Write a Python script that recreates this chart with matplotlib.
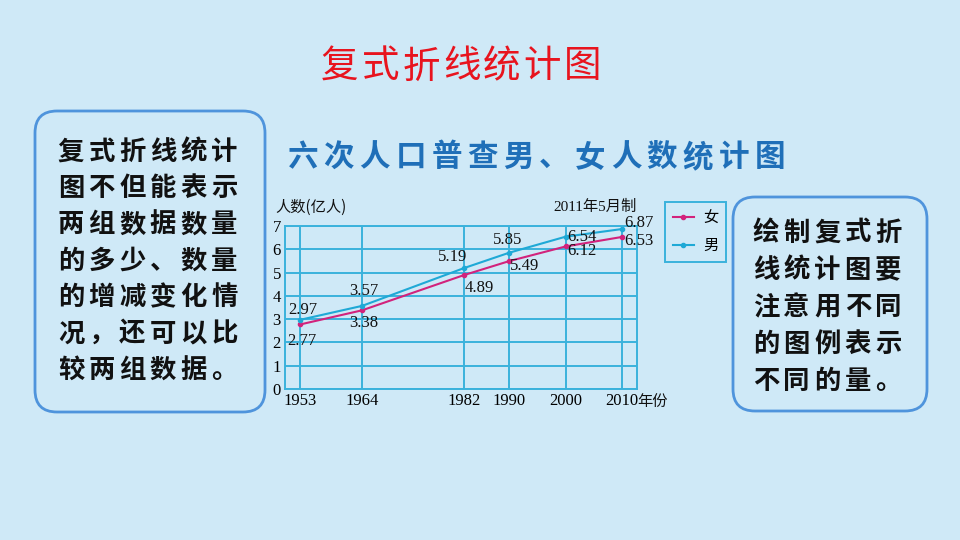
import matplotlib.pyplot as plt
from matplotlib.patches import FancyBboxPatch

years = [1953, 1964, 1982, 1990, 2000, 2010]
male = [2.97, 3.57, 5.19, 5.85, 6.54, 6.87]
female = [2.77, 3.38, 4.89, 5.49, 6.12, 6.53]

title = '复式折线统计图'
subtitle = '六次人口普查男、女人数统计图'
left_note = ['复式折线统计', '图不但能表示', '两组数据数量', '的多少、数量',
             '的增减变化情', '况，还可以比', '较两组数据。']
right_note = ['绘制复式折', '线统计图要', '注意用不同', '的图例表示', '不同的量。']

BG = '#cfe9f7'
CJK = ['Noto Sans CJK SC', 'DejaVu Sans']
SERIF = ['Liberation Serif', 'DejaVu Serif']
MALE_C = '#1fa9d6'
FEMALE_C = '#d2237c'
GRID_C = '#3ab2dc'

plt.rcParams['font.family'] = CJK

fig = plt.figure(figsize=(9.6, 5.4), dpi=100, facecolor=BG)

# overlay in pixel coordinates for boxes and slide text
bg = fig.add_axes([0, 0, 1, 1])
bg.set_xlim(0, 960)
bg.set_ylim(540, 0)
bg.axis('off')


def spaced(x0, y, s, pitch, **kw):
    for i, ch in enumerate(s):
        bg.text(x0 + i * pitch, y, ch, ha='center', va='center', **kw)


spaced(322 + 18, 67, title, 40.5, fontsize=27, color='#e8141e',
       fontweight='medium')
spaced(288 + 15, 157, subtitle, 35.9, fontsize=22, color='#1f6fb8',
       fontweight='bold')

for (x0, y0, x1, y1) in [(35, 111, 265, 412), (733, 197, 927, 411)]:
    bg.add_patch(FancyBboxPatch((x0 + 22, y0 + 22), x1 - x0 - 44, y1 - y0 - 44,
                                boxstyle='round,pad=22', fc=BG,
                                ec='#4f94dc', lw=2))

for i, line in enumerate(left_note):
    spaced(71, 152 + i * 36.4, line, 30.7, fontsize=19, color='#111111',
           fontweight='bold')
for i, line in enumerate(right_note):
    spaced(766, 233 + i * 37.2, line, 30.6, fontsize=19, color='#111111',
           fontweight='bold')

# chart
ax = fig.add_axes([285 / 960, 1 - 389 / 540, 352 / 960, 163 / 540])
ax.set_facecolor('none')
px = (622 - 300) / (years[-1] - years[0])
ax.set_xlim(years[0] - 15 / px, years[-1] + 15 / px)
ax.set_ylim(0, 7)
ax.set_xticks(years)
ax.set_yticks(range(8))
ax.grid(True, color=GRID_C, lw=1.4)
ax.tick_params(length=0, pad=3, labelsize=12)
for lab in ax.get_xticklabels() + ax.get_yticklabels():
    lab.set_fontfamily(SERIF)
for sp in ax.spines.values():
    sp.set_color(GRID_C)
    sp.set_linewidth(1.4)

ax.plot(years, female, color=FEMALE_C, lw=1.5, marker='o', ms=3, label='女')
ax.plot(years, male, color=MALE_C, lw=1.5, marker='o', ms=3, label='男')

male_off = [(3, 10), (2, 15), (-11, 11), (-1, 13), (16, 0), (17, 6)]
female_off = [(2, -17), (2, -13), (15, -13), (16, -5), (16, -5), (17, -4)]
for vals, offs in [(male, male_off), (female, female_off)]:
    for x, v, (dx, dy) in zip(years, vals, offs):
        ax.annotate(f'{v:.2f}', (x, v), xytext=(dx, dy),
                    textcoords='offset pixels', ha='center', va='center',
                    fontsize=12, family=SERIF, color='#111111')

leg = ax.legend(loc='upper left', bbox_to_anchor=(665 / 960, 1 - 202 / 540),
                bbox_transform=fig.transFigure, borderaxespad=0,
                handlelength=1.4, handletextpad=0.6, fontsize=11,
                fancybox=False, facecolor=BG, edgecolor=GRID_C, framealpha=1,
                borderpad=0.5, labelspacing=0.7)
leg.get_frame().set_linewidth(1.4)

bg.text(275, 207, '人数(亿人)', ha='left', va='center', fontsize=11, color='#111111')
bg.text(553, 207, '2011年5月制', ha='left', va='center', fontsize=11,
        family=SERIF + CJK, color='#111111')
bg.text(637, 401, '年份', ha='left', va='center', fontsize=11, color='#111111')

fig.savefig('out.png', dpi=100, facecolor=BG)
